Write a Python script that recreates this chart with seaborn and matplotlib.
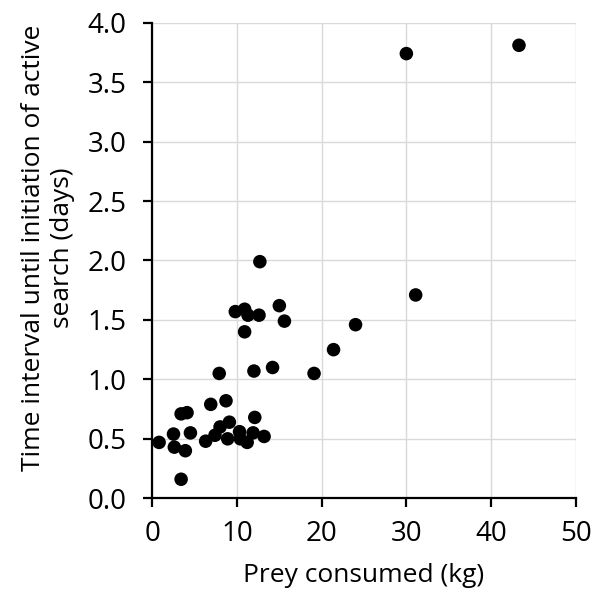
import matplotlib
matplotlib.use("Agg")
import matplotlib.pyplot as plt
import pandas as pd
import seaborn as sns

# prey consumed (kg) and time until active search (days)
prey_kg = [
    12.7, 9.8, 10.9, 11.3, 12.6, 15.0, 15.6, 10.9, 21.4, 7.9,
    12.0, 14.2, 19.1, 6.9, 8.7, 3.4, 4.1, 12.1, 0.8, 2.5,
    2.6, 3.9, 4.5, 3.4, 6.3, 7.4, 8.0, 9.1, 8.9, 10.3,
    10.4, 11.2, 11.9, 13.2, 30.0, 43.3, 31.1, 24.0,
]
days = [
    1.99, 1.57, 1.59, 1.54, 1.54, 1.62, 1.49, 1.40, 1.25, 1.05,
    1.07, 1.10, 1.05, 0.79, 0.82, 0.71, 0.72, 0.68, 0.47, 0.54,
    0.43, 0.40, 0.55, 0.16, 0.48, 0.53, 0.60, 0.64, 0.50, 0.56,
    0.50, 0.47, 0.55, 0.52, 3.74, 3.81, 1.71, 1.46,
]

df = pd.DataFrame({"prey": prey_kg, "days": days})

sns.set_style("white")
plt.rcParams["font.family"] = ["Open Sans", "DejaVu Sans"]
plt.rcParams["text.color"] = "black"
plt.rcParams["axes.labelcolor"] = "black"
plt.rcParams["xtick.color"] = "black"
plt.rcParams["ytick.color"] = "black"

fig = plt.figure(figsize=(5.92, 5.91), dpi=100)
ax = fig.add_axes([0.2573, 0.1569, 0.7152, 0.8047])

sns.scatterplot(data=df, x="prey", y="days", ax=ax, color="black",
                s=95, edgecolor="none", zorder=3, clip_on=False)

ax.set_xlim(0, 50)
ax.set_ylim(0, 4.0)
ax.set_xticks(range(0, 51, 10))
ax.set_yticks([i * 0.5 for i in range(9)])
ax.set_yticklabels([f"{i * 0.5:.1f}" for i in range(9)])
ax.grid(True, color="#d9d9d9", lw=1.0, zorder=0)
ax.set_axisbelow(True)

for s in ["top", "right"]:
    ax.spines[s].set_visible(False)
for s in ["left", "bottom"]:
    ax.spines[s].set_color("black")
    ax.spines[s].set_linewidth(1.6)

ax.tick_params(axis="both", direction="out", length=6.5, width=1.6,
               color="black", labelcolor="black", labelsize=20,
               left=True, bottom=True)
ax.tick_params(axis="y", pad=12)
ax.tick_params(axis="x", pad=9)

ax.set_xlabel("Prey consumed (kg)", fontsize=19, labelpad=11)
ax.set_ylabel("Time interval until initiation of active\nsearch (days)",
              fontsize=19, labelpad=9, linespacing=1.2)
ax.yaxis.label.set_y(0.526)

fig.savefig("out.png", dpi=100)
